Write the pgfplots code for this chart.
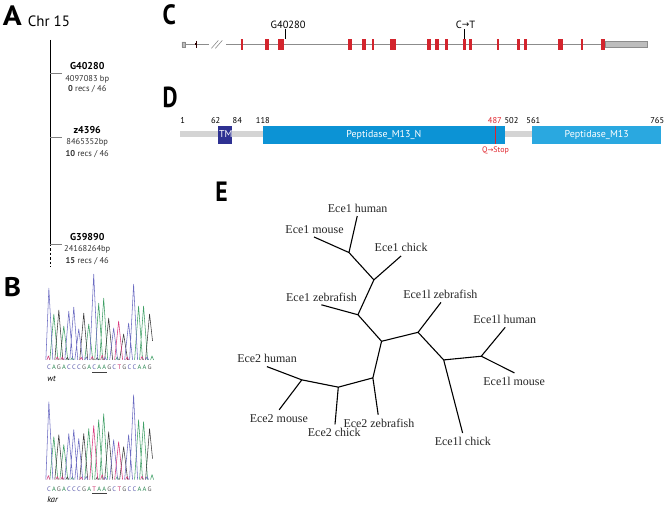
\documentclass[border=0pt]{standalone}
\usepackage{pgfplots}
\pgfplotsset{compat=1.18}
\usepackage{graphicx}
\usepackage{fontspec}
\setmainfont{PT Sans}
\newfontfamily\serif{Liberation Serif}
\newfontfamily\dv{DejaVu Sans}
\definecolor{cC}{HTML}{6B6BC2}
\definecolor{cA}{HTML}{3FA066}
\definecolor{cG}{HTML}{3A3A3A}
\definecolor{cT}{HTML}{D8387E}
\definecolor{tC}{HTML}{5555A8}
\definecolor{tA}{HTML}{2E8A55}
\definecolor{tG}{HTML}{555555}
\definecolor{tT}{HTML}{C8306A}
\definecolor{exon}{HTML}{D3242D}
\definecolor{gline}{HTML}{8C8C8C}
\definecolor{utr}{HTML}{BDBDBD}
\definecolor{tmc}{HTML}{2E3192}
\definecolor{pepn}{HTML}{0C93D5}
\definecolor{pepm}{HTML}{2AA8E0}
\definecolor{pbar}{HTML}{D4D4D4}
\definecolor{redm}{HTML}{E0232B}
\newcommand\fs[1]{\fontsize{#1}{#1}\selectfont}
\newcommand\plab[3]{\scalebox{#1}[1]{\fs{#2}\bfseries #3}}
\newcommand\sC{\makebox[5.05pt]{\color{tC}C}}
\newcommand\sA{\makebox[5.05pt]{\color{tA}A}}
\newcommand\sG{\makebox[5.05pt]{\color{tG}G}}
\newcommand\sT{\makebox[5.05pt]{\color{tT}T}}
\begin{document}
\begin{tikzpicture}
\begin{axis}[
  width=670pt, height=508pt, scale only axis,
  xmin=0, xmax=670, ymin=0, ymax=508, y dir=reverse,
  hide axis, clip=false, unbounded coords=jump,
  every axis plot/.append style={mark=none},
]
\addplot[draw=none] coordinates {(0,0) (670,508)};

% ---------------- Panel A ----------------
\addplot[black, line width=0.8pt] coordinates {(50.3,40) (50.3,247)};
\addplot[black, line width=0.8pt, dash pattern=on 2.5pt off 2pt] coordinates {(50.3,249) (50.3,268)};
\addplot[gray, line width=0.6pt] coordinates {(50.3,74) (62,74) (62,nan) (50.3,138) (62,138) (62,nan) (50.3,245) (62,245)};

% ---------------- Panel B chromatograms (wt) ----------------
\addplot[cA, line width=0.55pt, line join=round] coordinates {
(50,361)(54,315)(58,361)(58,nan)
(60,361)(64,327)(68,361)(68,nan)
(85,361)(89,325)(93,361)(93,nan)
(95,361)(99,304)(103,361)(103,nan)
(100,361)(104,299)(108,361)(108,nan)
(135,361)(139,307)(143,361)(143,nan)
(140,361)(144,307)(148,361)(148,nan)
(71,361)(72.5,358.5)(74,361)(74,nan)
(116,361)(117.5,358)(119,361)(119,nan)
(151,361)(152.5,357)(154,361)};
\addplot[cG, line width=0.55pt, line join=round] coordinates {
(55,361)(59,311)(63,361)(63,nan)
(80,361)(84,314)(88,361)(88,nan)
(105,361)(109,319)(113,361)(113,nan)
(120,361)(124,335)(128,361)(128,nan)
(146,361)(150,315)(153,342)(153,nan)
(66,361)(67.5,358.5)(69,361)(69,nan)
(96,361)(97.5,358.5)(99,361)};
\addplot[cC, line width=0.55pt, line join=round] coordinates {
(46,361)(49,289)(53,361)(53,nan)
(65,361)(69,312)(73,361)(73,nan)
(70,361)(74,308)(78,361)(78,nan)
(75,361)(79,330)(83,361)(83,nan)
(90,361)(94,275)(98,361)(98,nan)
(110,361)(114,329)(118,361)(118,nan)
(125,361)(129,324)(133,361)(133,nan)
(130,361)(134,285)(138,361)(138,nan)
(85,361)(86.5,358)(88,361)(88,nan)
(104,361)(105.5,358.5)(107,361)(107,nan)
(146,361)(147.5,358)(149,361)};
\addplot[cT, line width=0.55pt, line join=round] coordinates {
(115,361)(119,322)(123,361)(123,nan)
(47,361)(48.5,357)(50,361)(50,nan)
(56,361)(57.5,358)(59,361)(59,nan)
(61,361)(62.5,358)(64,361)(64,nan)
(80,361)(81.5,358.5)(83,361)(83,nan)
(91,361)(92.5,357.5)(94,361)(94,nan)
(101,361)(102.5,356)(104,361)(104,nan)
(126,361)(127.5,358)(129,361)(129,nan)
(141,361)(142.5,357.5)(144,361)};

% ---------------- Panel B chromatograms (kar) ----------------
\addplot[cA, line width=0.55pt, line join=round] coordinates {
(50,481)(54,438)(58,481)(58,nan)
(60,481)(64,446)(68,481)(68,nan)
(85,481)(89,430)(93,481)(93,nan)
(95,481)(99,421)(103,481)(103,nan)
(100,481)(104,415)(108,481)(108,nan)
(135,481)(139,421)(143,481)(143,nan)
(140,481)(144,423)(148,481)(148,nan)
(71,481)(72.5,478.5)(74,481)(74,nan)
(116,481)(117.5,478)(119,481)(119,nan)
(151,481)(152.5,476)(154,481)};
\addplot[cG, line width=0.55pt, line join=round] coordinates {
(55,481)(59,436)(63,481)(63,nan)
(80,481)(84,435)(88,481)(88,nan)
(105,481)(109,433)(113,481)(113,nan)
(120,481)(124,448)(128,481)(128,nan)
(146,481)(150,430)(153,460)(153,nan)
(66,481)(67.5,478.5)(69,481)(69,nan)
(96,481)(97.5,478.5)(99,481)};
\addplot[cC, line width=0.55pt, line join=round] coordinates {
(46,481)(49,403)(53,481)(53,nan)
(65,481)(69,435)(73,481)(73,nan)
(70,481)(74,431)(78,481)(78,nan)
(75,481)(79,440)(83,481)(83,nan)
(110,481)(114,441)(118,481)(118,nan)
(125,481)(129,436)(133,481)(133,nan)
(130,481)(134,396)(138,481)(138,nan)
(85,481)(86.5,478)(88,481)(88,nan)
(104,481)(105.5,478.5)(107,481)(107,nan)
(146,481)(147.5,478)(149,481)};
\addplot[cT, line width=0.55pt, line join=round] coordinates {
(90,481)(94,427)(98,481)(98,nan)
(115,481)(119,443)(123,481)(123,nan)
(47,481)(48.5,477)(50,481)(50,nan)
(56,481)(57.5,478)(59,481)(59,nan)
(61,481)(62.5,478)(64,481)(64,nan)
(80,481)(81.5,478.5)(83,481)(83,nan)
(101,481)(102.5,476)(104,481)(104,nan)
(126,481)(127.5,478)(129,481)(129,nan)
(141,481)(142.5,477.5)(144,481)};
% underlines
\addplot[black!75, line width=0.6pt] coordinates {(92.5,373) (107,373) (107,nan) (92.5,495) (107,495)};

% ---------------- Panel C gene model ----------------
\addplot[gline, line width=0.8pt] coordinates {(186,44.5) (210,44.5) (210,nan) (227,44.5) (607,44.5)};
\addplot[gline, line width=0.6pt] coordinates {(212,48.5) (219,40.5) (219,nan) (216,48.5) (223,40.5)};
\addplot[gline, fill=utr, line width=0.5pt] coordinates {(182.3,42) (186,42) (186,47) (182.3,47) (182.3,42)};
\addplot[gline, fill=utr, line width=0.5pt] coordinates {(607,41.3) (649,41.3) (649,47.7) (607,47.7) (607,41.3)};
\addplot[black!70!red!60!black, line width=2pt] coordinates {(195.7,44.5) (197.7,44.5)};
\addplot[black!70!red!60!black, line width=0.7pt] coordinates {(196.7,41) (196.7,48.5)};
\addplot[exon, line width=10.5pt] coordinates {
(241.3,44.5)(243.7,44.5)(243.7,nan)
(266,44.5)(270,44.5)(270,nan)
(279,44.5)(285,44.5)(285,nan)
(349.3,44.5)(352.7,44.5)(352.7,nan)
(363,44.5)(367,44.5)(367,nan)
(373.3,44.5)(375.3,44.5)(375.3,nan)
(391,44.5)(396.7,44.5)(396.7,nan)
(428.7,44.5)(432.7,44.5)(432.7,nan)
(436.7,44.5)(440,44.5)(440,nan)
(446.7,44.5)(449.3,44.5)(449.3,nan)
(464,44.5)(467.3,44.5)(467.3,nan)
(470.7,44.5)(473,44.5)(473,nan)
(498.3,44.5)(500.7,44.5)(500.7,nan)
(519,44.5)(522,44.5)(522,nan)
(526,44.5)(528.3,44.5)(528.3,nan)
(560,44.5)(565,44.5)(565,nan)
(582.3,44.5)(584.7,44.5)(584.7,nan)
(602.3,44.5)(607.3,44.5)};
\addplot[black, line width=0.6pt] coordinates {(286.5,29.5) (286.5,39.5) (286.5,nan) (466,29.5) (466,39.5)};

% ---------------- Panel D protein ----------------
\addplot[pbar, line width=5.8pt] coordinates {(181,134.5) (663,134.5)};
\addplot[tmc, line width=18pt] coordinates {(219,135) (233,135)};
\addplot[pepn, line width=18pt] coordinates {(264,135) (506,135)};
\addplot[pepm, line width=18pt] coordinates {(534,135) (663,135)};
\addplot[redm, line width=0.8pt] coordinates {(497,126) (497,144)};

% ---------------- Panel E tree ----------------
\addplot[black, line width=1.1pt, line join=round] coordinates {
(358.3,216.7)(350,253.3)(315,237.7)(315,nan)
(350,253.3)(375,280.7)(402.3,256.7)(402.3,nan)
(375,280.7)(359,315.7)(322.3,305.7)(322.3,nan)
(359,315.7)(382.7,342.3)(419.3,333.3)(442.3,303.3)(442.3,nan)
(419.3,333.3)(445,361)(464,434.3)(464,nan)
(445,361)(482.7,357.3)(506.7,328.3)(506.7,nan)
(482.7,357.3)(516,374)(516,nan)
(382.7,342.3)(374,379)(379.3,416)(379.3,nan)
(374,379)(339.3,388.3)(336,425.7)(336,nan)
(339.3,388.3)(302.7,381)(267.7,367.7)(267.7,nan)
(302.7,381)(280,411)};

% ---------------- Text ----------------
\begin{scope}[every node/.style={inner sep=0pt, outer sep=0pt}]
% panel letters
\node[anchor=base west] at (axis cs:3,25.5) {\plab{1.12}{28pt}{A}};
\node[anchor=base west] at (axis cs:4,297.5) {\plab{1.08}{27pt}{B}};
\node[anchor=base west] at (axis cs:163,25) {\plab{0.85}{28pt}{C}};
\node[anchor=base west] at (axis cs:163,108) {\plab{0.8}{29pt}{D}};
\node[anchor=base west] at (axis cs:216,202) {\plab{0.85}{28pt}{E}};
% panel A
\node[anchor=base west] at (axis cs:28,27) {\fs{15pt}Chr 15};
\node[anchor=base] at (axis cs:87.5,70) {\fs{10pt}\bfseries G40280};
\node[anchor=base] at (axis cs:87.5,81.5) {\fs{8.5pt}\color{black!80}4097083 bp};
\node[anchor=base] at (axis cs:87.5,92) {\fs{8.5pt}\color{black!80}\textbf{0} recs / 46};
\node[anchor=base] at (axis cs:87.5,134) {\fs{10pt}\bfseries z4396};
\node[anchor=base] at (axis cs:87.5,145.3) {\fs{8.5pt}\color{black!80}8465352bp};
\node[anchor=base] at (axis cs:87.5,156.5) {\fs{8.5pt}\color{black!80}\textbf{10} recs / 46};
\node[anchor=base] at (axis cs:87.5,241.5) {\fs{10pt}\bfseries G39890};
\node[anchor=base] at (axis cs:87.5,252.3) {\fs{8.5pt}\color{black!80}24168264bp};
\node[anchor=base] at (axis cs:87.5,264) {\fs{8.5pt}\color{black!80}\textbf{15} recs / 46};
% panel B
\node[anchor=base west] at (axis cs:46.5,371) {\fs{6.5pt}\sC\sA\sG\sA\sC\sC\sC\sG\sA\sC\sA\sA\sG\sC\sT\sG\sC\sC\sA\sA\sG};
\node[anchor=base west] at (axis cs:47.5,383) {\fs{8.5pt}\itshape wt};
\node[anchor=base west] at (axis cs:46.5,493) {\fs{6.5pt}\sC\sA\sG\sA\sC\sC\sC\sG\sA\sT\sA\sA\sG\sC\sT\sG\sC\sC\sA\sA\sG};
\node[anchor=base west] at (axis cs:47.5,504) {\fs{8.5pt}\itshape kar};
% panel C
\node[anchor=base] at (axis cs:289,28.3) {\fs{10.5pt}G40280};
\node[anchor=base] at (axis cs:467,28.3) {\fs{10.5pt}C{\dv\fs{9pt}\raisebox{0.3pt}{→}}T};
% panel D
\node[anchor=base] at (axis cs:183.3,124.3) {\fs{8.5pt}1};
\node[anchor=base] at (axis cs:216.3,124.3) {\fs{8.5pt}62};
\node[anchor=base] at (axis cs:238,124.3) {\fs{8.5pt}84};
\node[anchor=base] at (axis cs:263.7,124.3) {\fs{8.5pt}118};
\node[anchor=base] at (axis cs:496.3,124.3) {\fs{8.5pt}\color{redm}487};
\node[anchor=base] at (axis cs:513,124.3) {\fs{8.5pt}502};
\node[anchor=base] at (axis cs:535,124.3) {\fs{8.5pt}561};
\node[anchor=base] at (axis cs:659.2,124.3) {\fs{8.5pt}765};
\node[anchor=base] at (axis cs:226.5,138.3) {\fs{10pt}\color{white}TM};
\node[anchor=base] at (axis cs:385,138) {\fs{10pt}\color{white}Peptidase\_M13\_N};
\node[anchor=base] at (axis cs:598.5,138) {\fs{10pt}\color{white}Peptidase\_M13};
\node[anchor=base] at (axis cs:497,153) {\fs{8pt}\color{redm}Q{\dv\fs{7pt}→}Stop};
% panel E
\begin{scope}[every node/.append style={font=\serif\fs{12pt}, anchor=base, text=black!85}]
\node at (axis cs:358.7,213) {Ece1 human};
\node at (axis cs:315.5,234) {Ece1 mouse};
\node at (axis cs:402.3,252) {Ece1 chick};
\node at (axis cs:322.5,302) {Ece1 zebrafish};
\node at (axis cs:441.7,299) {Ece1l zebrafish};
\node at (axis cs:506.3,324) {Ece1l human};
\node at (axis cs:515.7,386.5) {Ece1l mouse};
\node at (axis cs:464.2,446.5) {Ece1l chick};
\node at (axis cs:267.8,364) {Ece2 human};
\node at (axis cs:279.7,424) {Ece2 mouse};
\node at (axis cs:335.3,438) {Ece2 chick};
\node at (axis cs:380,428.5) {Ece2 zebrafish};
\end{scope}
\end{scope}
\end{axis}
\end{tikzpicture}
\end{document}
